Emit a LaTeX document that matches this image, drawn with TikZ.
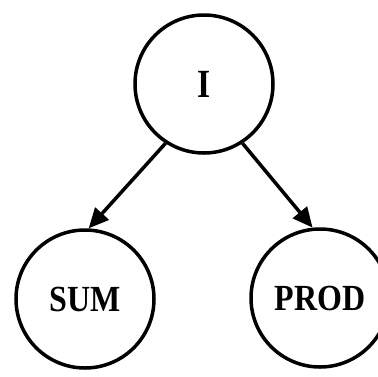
\documentclass[tikz,border=0pt]{standalone}
\usepackage{fontspec}
\setmainfont{Liberation Serif}
\usetikzlibrary{arrows.meta}
\begin{document}
\begin{tikzpicture}[x=1pt,y=-1pt,
  state/.style={circle,draw,line width=3.5pt,minimum size=138pt,inner sep=0pt,
    font=\fontsize{32}{32}\selectfont\bfseries},
  edge/.style={line width=3.5pt,-{Triangle[length=20pt,width=18pt]}}]
\useasboundingbox (0,0) rectangle (378,376);
\node[state] (i) at (204,84) {\scalebox{1.05}[1.25]{I}};
\node[state] (sum) at (85,299) {\scalebox{1}[1.15]{SUM}};
\node[state] (prod) at (320,298) {\scalebox{1}[1.15]{PROD}};
\draw[edge] (i.237) -- (sum.87);
\draw[edge] (i.303) -- (prod.96);
\end{tikzpicture}
\end{document}
